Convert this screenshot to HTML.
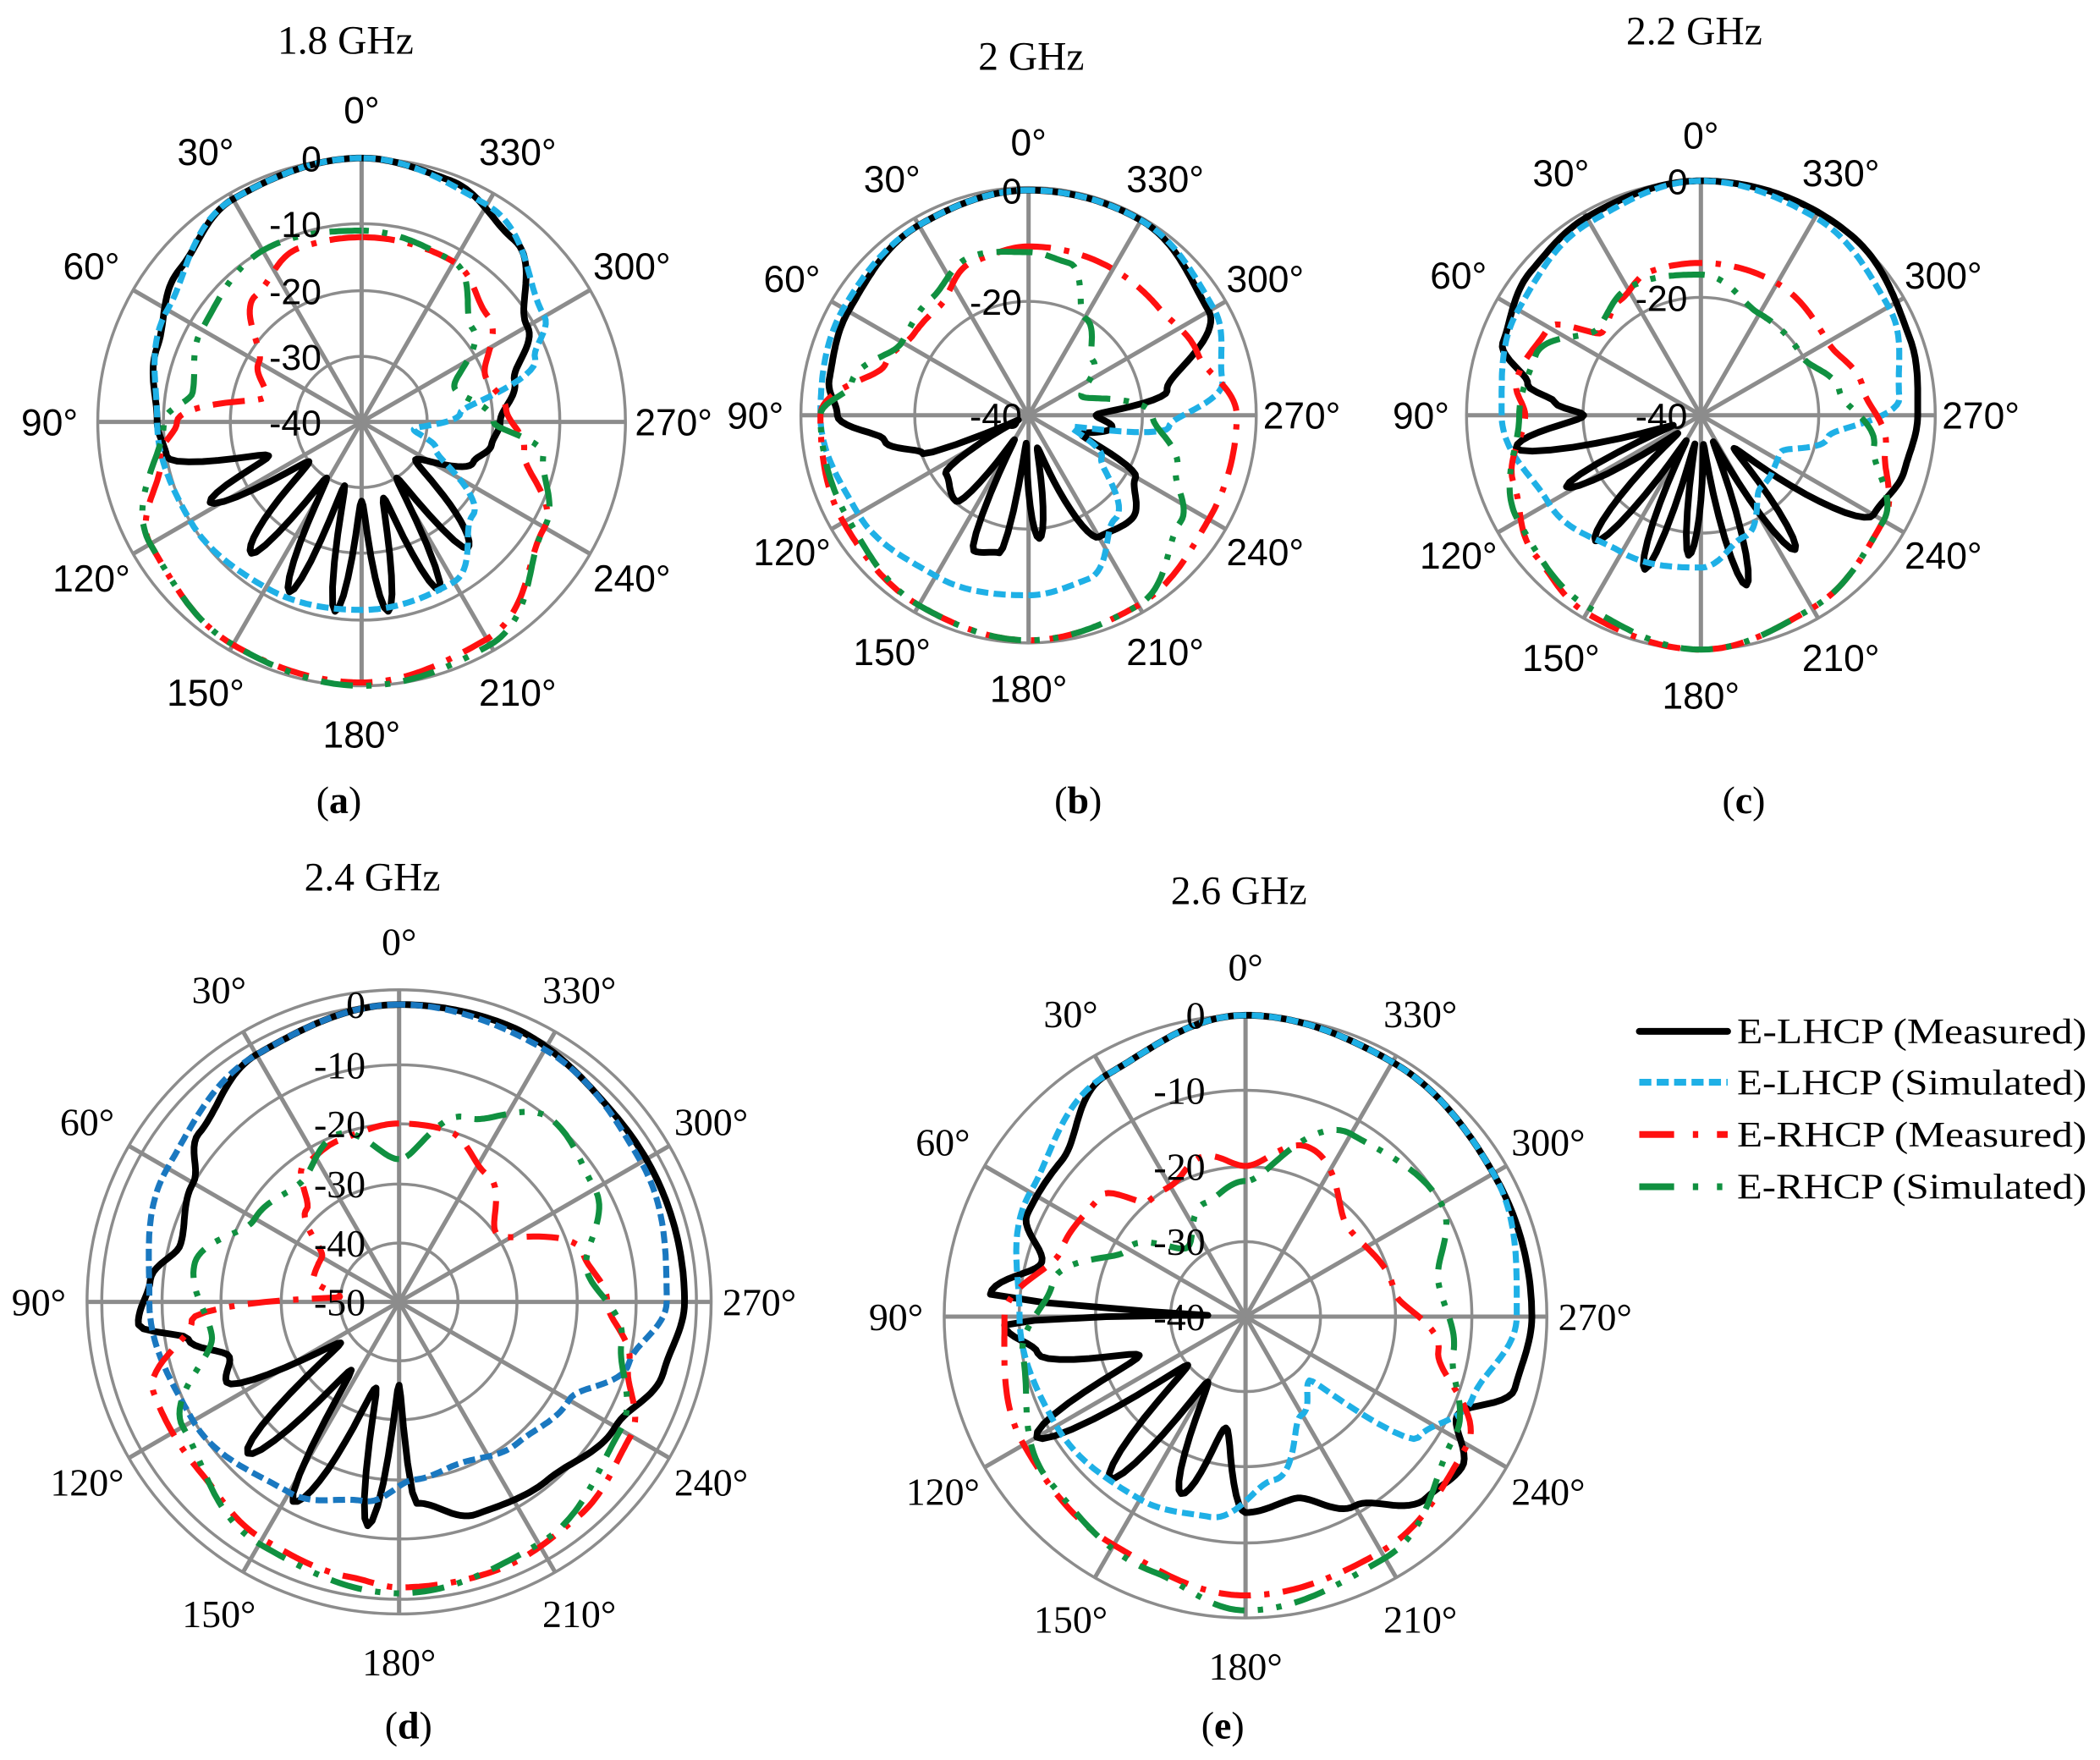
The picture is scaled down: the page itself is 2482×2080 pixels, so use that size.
<!DOCTYPE html>
<html><head><meta charset="utf-8"><style>
html,body{margin:0;padding:0;background:#fff;}
svg{display:block;}
.ang{font-family:"Liberation Sans",sans-serif;font-size:28px;fill:#000;}
.angs{font-family:"Liberation Serif",serif;font-size:29px;fill:#000;}
.db{font-family:"Liberation Sans",sans-serif;font-size:27px;fill:#000;}
.ttl{font-family:"Liberation Serif",serif;font-size:30px;fill:#000;}
.lbl{font-family:"Liberation Serif",serif;font-size:29px;fill:#000;}
.leg{font-family:"Liberation Serif",serif;font-size:27px;fill:#000;}
</style></head><body>
<svg id="s" width="2482" height="2080" viewBox="0 0 1568 1314" xmlns="http://www.w3.org/2000/svg">
<rect width="1568" height="1314" fill="#fff"/>
<g id="g"></g>
<text class="ttl" x="258" y="40" text-anchor="middle">1.8 GHz</text>
<text class="ttl" x="770" y="52" text-anchor="middle">2 GHz</text>
<text class="ttl" x="1265" y="33" text-anchor="middle">2.2 GHz</text>
<text class="ttl" x="278" y="665" text-anchor="middle">2.4 GHz</text>
<text class="ttl" x="925" y="675" text-anchor="middle">2.6 GHz</text>
<text class="lbl" x="253" y="607" text-anchor="middle">(<tspan font-weight="bold">a</tspan>)</text>
<text class="lbl" x="805" y="607" text-anchor="middle">(<tspan font-weight="bold">b</tspan>)</text>
<text class="lbl" x="1302" y="607" text-anchor="middle">(<tspan font-weight="bold">c</tspan>)</text>
<text class="lbl" x="305" y="1298" text-anchor="middle">(<tspan font-weight="bold">d</tspan>)</text>
<text class="lbl" x="913" y="1298" text-anchor="middle">(<tspan font-weight="bold">e</tspan>)</text>
<line x1="1224" y1="770" x2="1290" y2="770" stroke="#000" stroke-width="5" stroke-linecap="round"/>
<line x1="1224" y1="808" x2="1290" y2="808" stroke="#1fb0e6" stroke-width="5" stroke-dasharray="9 4"/>
<line x1="1224" y1="847" x2="1290" y2="847" stroke="#ff1010" stroke-width="5" stroke-dasharray="26 14 4 14 12"/>
<line x1="1224" y1="886" x2="1290" y2="886" stroke="#109040" stroke-width="5" stroke-dasharray="26 14 4 14 4"/>
<text class="leg" x="1297" y="779" textLength="261" lengthAdjust="spacingAndGlyphs">E-LHCP (Measured)</text>
<text class="leg" x="1297" y="817" textLength="261" lengthAdjust="spacingAndGlyphs">E-LHCP (Simulated)</text>
<text class="leg" x="1297" y="856" textLength="261" lengthAdjust="spacingAndGlyphs">E-RHCP (Measured)</text>
<text class="leg" x="1297" y="895" textLength="261" lengthAdjust="spacingAndGlyphs">E-RHCP (Simulated)</text>
</svg>
<script>
var NS="http://www.w3.org/2000/svg",G=document.getElementById("g");
function el(t,a,txt){var e=document.createElementNS(NS,t);for(var k in a)e.setAttribute(k,a[k]);if(txt!=null)e.textContent=txt;G.appendChild(e);return e;}
function interp(pts,a){pts=pts.slice().sort(function(p,q){return p[0]-q[0]});
 var n=pts.length;for(var i=0;i<n;i++){var p=pts[i],q=pts[(i+1)%n];var a0=p[0],a1=q[0];if(i==n-1)a1+=360;var aa=a;if(aa<a0)aa+=360;
 if(aa>=a0&&aa<=a1){var t=(aa-a0)/(a1-a0);t=(1-Math.cos(Math.PI*t))/2;return p[1]+(q[1]-p[1])*t;}}return pts[0][1];}
function plot(P){
 var cx=P.cx,cy=P.cy,R=P.R,mn=P.min;
 for(var i=0;i<P.rings.length;i++)el("circle",{cx:cx,cy:cy,r:P.rings[i],fill:"none",stroke:"#8c8c8c","stroke-width":2.2});
 el("circle",{cx:cx,cy:cy,r:P.outer,fill:"none",stroke:"#8c8c8c","stroke-width":2.2});
 for(var a=0;a<360;a+=30){var t=a*Math.PI/180;el("line",{x1:cx,y1:cy,x2:cx-P.outer*Math.sin(t),y2:cy-P.outer*Math.cos(t),stroke:"#8c8c8c","stroke-width":3.2});}
 var styles=[["#000","none",5],[P.blue||"#1fb0e6","9 4",4.5],["#ff1010","24 10 4 10",4.5],["#109040","24 10 4 10 4 10",4.5]];
 for(var c=0;c<4;c++){var pts=P.curves[c],d="";
  for(var a=0;a<=360;a+=1){var v=interp(pts,a%360);if(v<mn)v=mn;var r=(v-mn)/(-mn)*R,t=a*Math.PI/180;
   d+=(a?"L":"M")+(cx-r*Math.sin(t)).toFixed(1)+" "+(cy-r*Math.cos(t)).toFixed(1);}
  var s=styles[c];el("path",{d:d,fill:"none",stroke:s[0],"stroke-width":s[2],"stroke-dasharray":s[1],"stroke-linejoin":"round"});}
 var cls=P.serif?"angs":"ang";
 for(var a=0;a<360;a+=30){var t=a*Math.PI/180,rr=P.outer+P.lo;
  var x=cx-rr*Math.sin(t),y=cy-rr*Math.cos(t)+10;el("text",{"class":cls,x:x,y:y,"text-anchor":"middle"},a+"°");}
 for(var i=0;i<P.dbl.length;i++){var L=P.dbl[i];el("text",{"class":P.serif?"angs":"db",x:cx+P.dx,y:cy-L[1]+10,"text-anchor":"end"},L[0]);}
}
plot({cx:270,cy:315,R:197,outer:197,min:-40,rings:[49,98,148],lo:36,dx:-30,
 dbl:[["0",197],["-10",148],["-20",98],["-30",49],["-40",0]],
 curves:[
 [[0,0],[30,-1],[50,-4],[70,-7],[90,-9],[100,-10],[110,-25],[118,-14],[127,-30],[140,-14],[148,-30],[157,-12],[165,-30],[172,-11],[180,-28],[188,-11],[196,-28],[205,-12],[212,-30],[220,-15],[235,-30],[250,-22],[260,-20],[270,-19],[285,-16],[300,-11],[320,-4],[340,-1]],
 [[0,0],[30,-1],[60,-6],[90,-9],[120,-10],[150,-11],[180,-11.5],[210,-12],[230,-18],[250,-28],[262,-32],[275,-25],[290,-12],[300,-8],[330,-2]],
 [[0,-12],[20,-12],[40,-15],[60,-22],[75,-25],[90,-12],[100,-9],[120,-3],[150,-1],[180,-0.5],[210,-2],[240,-8],[260,-15],[275,-18],[290,-20],[310,-15],[330,-12],[345,-12]],
 [[0,-11],[30,-10],[60,-12],[80,-14],[90,-10],[120,-3],[150,-1],[180,0],[210,-1],[240,-8],[260,-12],[270,-20],[290,-25],[310,-18],[330,-12]]]});
plot({cx:768,cy:310,R:168,outer:170,min:-40,rings:[85],lo:34,dx:-5,
 dbl:[["0",168],["-20",85],["-40",0]],
 curves:[
 [[0,0],[30,-1],[60,-3],[80,-4],[90,-6],[100,-14],[110,-20],[115,-38],[125,-22],[140,-20],[150,-35],[158,-14],[168,-15],[175,-35],[185,-18],[195,-34],[210,-15],[225,-14],[240,-18],[250,-30],[262,-25],[270,-28],[280,-15],[300,-3],[330,0]],
 [[0,0],[30,-1],[60,-2],[90,-3],[120,-5],[150,-7],[180,-8],[200,-9],[220,-16],[240,-25],[255,-32],[265,-15],[280,-5],[300,-2],[330,0]],
 [[0,-10],[20,-11],[40,-15],[55,-15],[70,-13],[90,-3],[120,-2],[150,-1],[180,0],[210,-1],[240,-3],[270,-3],[290,-8],[310,-10],[330,-10],[345,-10]],
 [[0,-11],[20,-10],[40,-13],[60,-14],[80,-8],[90,-3],[120,-3],[150,-1],[180,0],[210,-1],[235,-7],[250,-12],[270,-18],[290,-30],[310,-25],[330,-20],[345,-12]]]});
plot({cx:1270,cy:310,R:175,outer:175,min:-40,rings:[88],lo:34,dx:-10,
 dbl:[["0",175],["-20",88],["-40",0]],
 curves:[
 [[0,0],[30,-1],[50,-2],[70,-4],[80,-10],[85,-15],[90,-20],[100,-8],[110,-35],[118,-14],[128,-35],[140,-12],[150,-35],[160,-12],[168,-35],[175,-16],[185,-35],[195,-10],[205,-35],[215,-12],[225,-32],[240,-6],[255,-4],[270,-3],[290,-2],[320,0]],
 [[0,0],[30,-2],[60,-4],[90,-6],[120,-10],[150,-13],[180,-14],[200,-18],[220,-24],[245,-25],[260,-18],[275,-6],[300,-3],[330,-1]],
 [[0,-14],[20,-14],[35,-16],[50,-18],[60,-10],[80,-8],[90,-10],[110,-6],[130,-3],[150,-1],[180,0],[210,-2],[240,-4],[260,-8],[280,-12],[300,-15],[330,-14]],
 [[0,-16],[30,-15],[50,-17],[70,-10],[90,-9],[120,-4],[150,-2],[180,0],[210,-2],[240,-4],[260,-10],[280,-16],[300,-20],[330,-20]]]});
plot({cx:298,cy:972,R:222,outer:233,min:-50,rings:[44,88,133,177,222],lo:36,dx:-25,serif:true,blue:"#1a78c0",
 dbl:[["0",222],["-10",177],["-20",133],["-30",88],["-40",44],["-50",0]],
 curves:[
 [[0,0],[30,-2],[50,-6],[60,-10],[75,-12],[85,-8],[95,-6],[100,-14],[108,-20],[115,-18],[125,-38],[135,-14],[145,-36],[152,-12],[165,-35],[172,-12],[180,-36],[185,-16],[200,-12],[220,-11],[240,-8],[255,-4],[270,-2],[290,-2],[310,-2],[340,0]],
 [[0,0],[30,-2],[60,-5],[90,-8],[120,-10],[150,-13],[170,-16],[185,-20],[200,-21],[220,-19],[240,-17],[255,-10],[270,-5],[300,-3],[330,-1]],
 [[0,-20],[20,-21],[35,-22],[45,-28],[60,-35],[75,-35],[85,-40],[95,-15],[110,-6],[130,-6],[150,-4],[170,-3],[180,-2],[200,-2],[220,-3],[240,-5],[255,-10],[270,-15],[285,-18],[305,-30],[325,-24],[345,-20]],
 [[0,-26],[20,-20],[40,-24],[60,-22],[80,-15],[100,-18],[120,-8],[150,-3],[180,-1],[210,-3],[240,-7],[260,-12],[280,-18],[300,-12],[320,-10],[340,-17]]]});
plot({cx:930,cy:983,R:225,outer:225,min:-40,rings:[56,112,169],lo:36,dx:-30,serif:true,
 dbl:[["0",225],["-10",169],["-20",112],["-30",56],["-40",0]],
 curves:[
 [[0,0],[30,-3],[50,-8],[65,-8],[75,-12],[85,-6],[88,-35],[92,-8],[100,-12],[110,-25],[120,-8],[130,-30],[140,-12],[150,-30],[160,-15],[170,-25],[180,-14],[195,-15],[210,-11],[225,-6],[235,-5],[245,-9],[255,-3],[270,-2],[300,-2],[330,-1]],
 [[0,0],[30,-3],[60,-7],[90,-10],[120,-11],[150,-12],[170,-13],[190,-18],[210,-25],[225,-28],[235,-12],[250,-8],[270,-4],[300,-2],[330,-1]],
 [[0,-20],[15,-18],[30,-20],[40,-20],[50,-15],[70,-14],[90,-8],[120,-6],[150,-5],[180,-3],[210,-4],[240,-6],[260,-14],[280,-20],[310,-22],[340,-16]],
 [[0,-22],[20,-24],[40,-28],[60,-22],[80,-14],[100,-10],[130,-6],[160,-4],[180,-1],[210,-3],[240,-8],[260,-12],[280,-14],[300,-10],[330,-12]]]});
</script>
</body></html>
